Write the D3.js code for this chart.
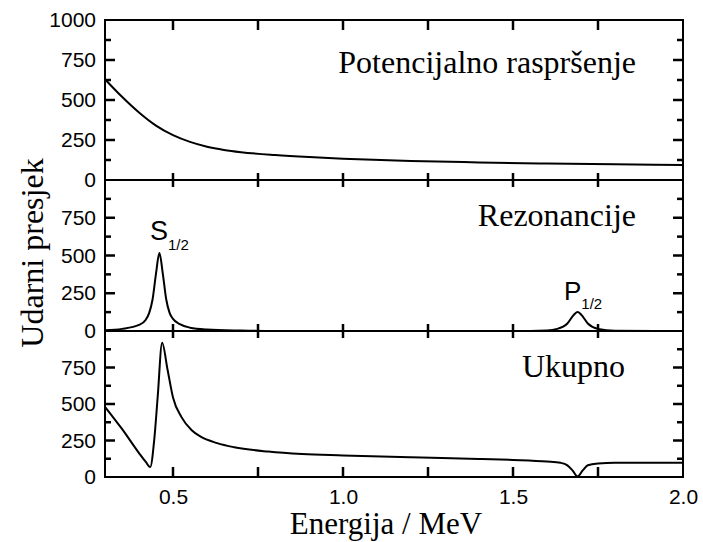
<!DOCTYPE html>
<html>
<head>
<meta charset="utf-8">
<script src="https://cdn.jsdelivr.net/npm/d3@7"></script>
<style>
  body { margin: 0; background: #fff; }
  .tick text { font-family: "Liberation Sans", Arial, sans-serif; font-size: 21px; fill: #000; }
  .serif { font-family: "Liberation Serif", "Times New Roman", serif; fill: #000; }
</style>
</head>
<body>
<div id="chart"></div>
<script>
// Energy (MeV) / cross section values
var potE   = [0.30, 0.35, 0.40, 0.45, 0.50, 0.55, 0.60, 0.65, 0.70, 0.80, 0.90, 1.00, 1.20, 1.40, 1.60, 1.80, 2.00];
var potVal = [630, 520, 422, 340, 280, 238, 208, 188, 174, 156, 143, 133, 119, 110, 103, 98, 94];

var resE   = [0.30, 0.35, 0.40, 0.42, 0.43, 0.44, 0.45, 0.46, 0.47, 0.48, 0.49, 0.50, 0.52, 0.55, 0.60, 0.70, 0.80,
              1.50, 1.60, 1.63, 1.66, 1.68, 1.69, 1.70, 1.72, 1.75, 1.80, 2.00];
var resVal = [5, 14, 40, 75, 120, 210, 380, 517, 380, 210, 120, 80, 45, 22, 10, 3, 0,
              0, 4, 14, 50, 110, 126, 110, 50, 14, 2, 0];

var totE   = [0.30, 0.35, 0.40, 0.42, 0.433, 0.445, 0.455, 0.468, 0.484, 0.50, 0.525, 0.555, 0.58, 0.63, 0.68,
              0.78, 0.88, 1.00, 1.20, 1.40, 1.50, 1.60, 1.64, 1.66, 1.675, 1.69, 1.705, 1.72, 1.75, 1.80, 2.00];
var totVal = [481, 329, 164, 103, 68, 260, 550, 920, 735, 545, 410, 320, 278, 232, 204,
              174, 157, 148, 135, 124, 117, 106, 97, 80, 45, 3, 45, 80, 92, 97, 97];

var xTicks = [0.5, 0.75, 1.0, 1.25, 1.5, 1.75];
var xLabels = [0.5, 1.0, 1.5, 2.0];
var yMajor = [250, 500, 750];
var yMinor = [125, 375, 625, 875];

var W = 703, H = 542;
var left = 105, right = 683;
var bounds = [20, 180, 331, 477];   // top of panel 1, panel borders, bottom

var svg = d3.select("#chart").append("svg")
    .attr("width", W).attr("height", H);

var x = d3.scaleLinear().domain([0.3, 2.0]).range([left, right]);

var panels = [
  { e: potE, v: potVal, top: bounds[0], bottom: bounds[1], labels: [0, 250, 500, 750, 1000] },
  { e: resE, v: resVal, top: bounds[1], bottom: bounds[2], labels: [0, 250, 500, 750] },
  { e: totE, v: totVal, top: bounds[2], bottom: bounds[3], labels: [0, 250, 500, 750] }
];

// frame and panel borders
svg.append("rect")
    .attr("x", left).attr("y", bounds[0])
    .attr("width", right - left).attr("height", bounds[3] - bounds[0])
    .attr("fill", "none").attr("stroke", "#000").attr("stroke-width", 2);

[bounds[1], bounds[2]].forEach(function(yy) {
  svg.append("line")
      .attr("x1", left).attr("x2", right)
      .attr("y1", yy).attr("y2", yy)
      .attr("stroke", "#000").attr("stroke-width", 2);
});

// tick marks: vertical ones at x positions, horizontal ones at y positions
function vTicks(vals, y0, y1) {
  svg.append("g").selectAll("line")
    .data(vals).enter().append("line")
      .attr("x1", function(d) { return x(d); })
      .attr("x2", function(d) { return x(d); })
      .attr("y1", y0).attr("y2", y1)
      .attr("stroke", "#000").attr("stroke-width", 2.5);
}
function hTicks(vals, y, len) {
  [[left, left + len], [right, right - len]].forEach(function(xx) {
    svg.append("g").selectAll("line")
      .data(vals).enter().append("line")
        .attr("x1", xx[0]).attr("x2", xx[1])
        .attr("y1", function(d) { return y(d); })
        .attr("y2", function(d) { return y(d); })
        .attr("stroke", "#000").attr("stroke-width", 2.5);
  });
}

panels.forEach(function(p) {
  var y = d3.scaleLinear().domain([0, 1000]).range([p.bottom, p.top]);

  // tick labels from the axis
  var g = svg.append("g").attr("transform", "translate(" + left + ",0)")
      .call(d3.axisLeft(y).tickValues(p.labels).tickSize(0).tickPadding(9)
        .tickFormat(d3.format("d")));
  g.select(".domain").remove();

  hTicks(yMajor, y, 10);
  hTicks(yMinor, y, 6);

  var line = d3.line()
      .x(function(d, i) { return x(p.e[i]); })
      .y(function(d) { return y(d); })
      .curve(d3.curveMonotoneX);

  svg.append("path")
      .datum(p.v)
      .attr("fill", "none")
      .attr("stroke", "#000")
      .attr("stroke-width", 2)
      .attr("stroke-linejoin", "round")
      .attr("d", line);
});

// x ticks: inward at top and bottom, crossing the panel borders
vTicks(xTicks, bounds[0], bounds[0] + 10);
vTicks(xTicks, bounds[1] - 7, bounds[1] + 7);
vTicks(xTicks, bounds[2] - 7, bounds[2] + 7);
vTicks(xTicks, bounds[3] - 10, bounds[3]);

var bot = svg.append("g").attr("transform", "translate(0," + bounds[3] + ")")
    .call(d3.axisBottom(x).tickValues(xLabels).tickSize(0).tickPadding(12)
      .tickFormat(d3.format(".1f")));
bot.select(".domain").remove();

// panel titles
svg.append("text").attr("class", "serif")
    .attr("x", 636).attr("y", 73)
    .attr("text-anchor", "end").attr("font-size", "32px")
    .text("Potencijalno raspršenje");
svg.append("text").attr("class", "serif")
    .attr("x", 636).attr("y", 226)
    .attr("text-anchor", "end").attr("font-size", "32px")
    .text("Rezonancije");
svg.append("text").attr("class", "serif")
    .attr("x", 522).attr("y", 377)
    .attr("font-size", "32px")
    .text("Ukupno");

// resonance labels
var sLab = svg.append("text")
    .attr("x", 150).attr("y", 240)
    .attr("font-family", "Liberation Sans, Arial, sans-serif")
    .attr("font-size", "27px");
sLab.append("tspan").text("S");
sLab.append("tspan").attr("font-size", "15px").attr("dy", 10).text("1/2");

var pLab = svg.append("text")
    .attr("x", 564).attr("y", 300)
    .attr("font-family", "Liberation Sans, Arial, sans-serif")
    .attr("font-size", "26px");
pLab.append("tspan").text("P");
pLab.append("tspan").attr("font-size", "15px").attr("dy", 9).text("1/2");

// axis titles
svg.append("text").attr("class", "serif")
    .attr("x", 386).attr("y", 534)
    .attr("text-anchor", "middle").attr("font-size", "31px")
    .text("Energija / MeV");

svg.append("text").attr("class", "serif")
    .attr("transform", "translate(43,253) rotate(-90)")
    .attr("text-anchor", "middle").attr("font-size", "32px")
    .text("Udarni presjek");
</script>
</body>
</html>
